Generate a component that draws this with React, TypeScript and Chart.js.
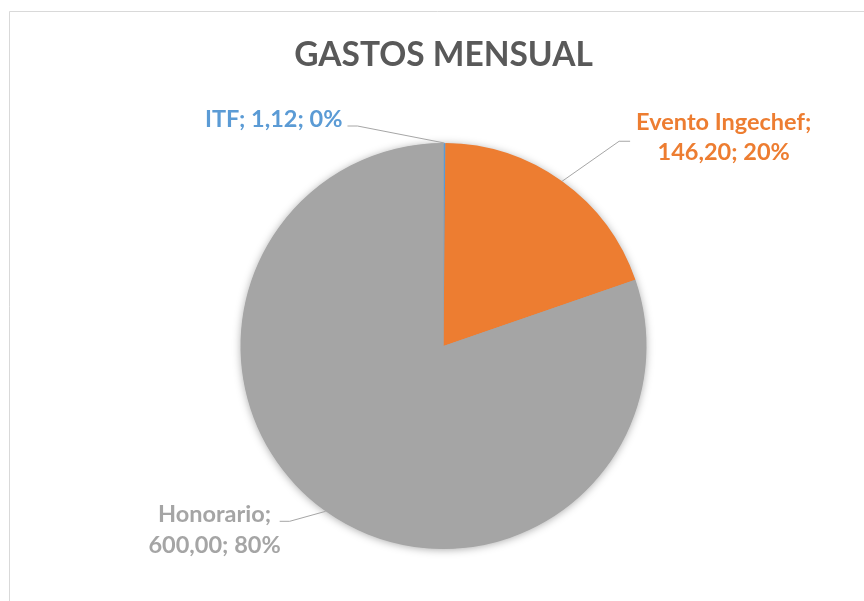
import React, { useEffect, useRef } from 'react';
import { Chart, registerables } from 'chart.js';

Chart.register(...registerables);

const chartTitle = 'GASTOS MENSUAL';
const categories = ['ITF', 'Evento Ingechef', 'Honorario'];
const values = [1.12, 146.2, 600.0];
const sliceColors = ['#5B9BD5', '#ED7D31', '#A5A5A5'];

// Leader-line / label layout for each slice (relative to the slice's outer edge)
const labelElbows = [[-87, -17], [57, -40], [-36, 10]];
const labelTails = [-10, 11, -10];
const labelGaps = [5, 6, -1];
const labelSplit = [false, true, true];
const labelBaselines = [[1], [-11, 19], [1, 32]];

const LABEL_FONT = 'bold 23.5px Lato';
const LEADER_COLOR = '#A6A6A6';

function fmt(v: number): string {
  return v.toFixed(2).replace('.', ',');
}

const total = values.reduce((a, b) => a + b, 0);

function labelLines(i: number): string[] {
  const pct = Math.round((values[i] / total) * 100) + '%';
  const name = categories[i] + ';';
  const rest = fmt(values[i]) + '; ' + pct;
  return labelSplit[i] ? [name, rest] : [name + ' ' + rest];
}

const frame = {
  id: 'frame',
  beforeDraw(chart: any) {
    const ctx = chart.ctx;
    ctx.save();
    ctx.fillStyle = '#ffffff';
    ctx.fillRect(0, 0, chart.width, chart.height);
    ctx.strokeStyle = '#D9D9D9';
    ctx.lineWidth = 1;
    ctx.beginPath();
    ctx.moveTo(9.5, chart.height + 5);
    ctx.lineTo(9.5, 11.5);
    ctx.lineTo(chart.width + 5, 11.5);
    ctx.stroke();
    ctx.restore();
  },
};

const pieShadow = {
  id: 'pieShadow',
  beforeDatasetsDraw(chart: any) {
    const meta = chart.getDatasetMeta(0);
    const arc = meta.data[0];
    if (!arc) return;
    const { x, y, outerRadius } = arc.getProps(['x', 'y', 'outerRadius'], true);
    const ctx = chart.ctx;
    ctx.save();
    ctx.shadowColor = 'rgba(0,0,0,0.35)';
    ctx.shadowBlur = 9;
    ctx.shadowOffsetX = 0;
    ctx.shadowOffsetY = 1;
    ctx.fillStyle = '#A5A5A5';
    ctx.beginPath();
    ctx.arc(x, y, outerRadius - 0.5, 0, Math.PI * 2);
    ctx.fill();
    ctx.restore();
  },
};

const pieLabels = {
  id: 'pieLabels',
  afterDatasetsDraw(chart: any) {
    const meta = chart.getDatasetMeta(0);
    const ctx = chart.ctx;
    ctx.save();
    ctx.font = LABEL_FONT;
    meta.data.forEach((arc: any, i: number) => {
      const { x, y, startAngle, endAngle, outerRadius } = arc.getProps(
        ['x', 'y', 'startAngle', 'endAngle', 'outerRadius'],
        true
      );
      const mid = (startAngle + endAngle) / 2;
      const px = x + Math.cos(mid) * outerRadius;
      const py = y + Math.sin(mid) * outerRadius;
      const ex = px + labelElbows[i][0];
      const ey = py + labelElbows[i][1];
      const tx = ex + labelTails[i];
      ctx.strokeStyle = LEADER_COLOR;
      ctx.lineWidth = 1;
      ctx.beginPath();
      ctx.moveTo(px, py);
      ctx.lineTo(ex, ey);
      ctx.lineTo(tx, ey);
      ctx.stroke();

      const lines = labelLines(i);
      const widths = lines.map((l) => ctx.measureText(l).width);
      const blockW = Math.max(...widths);
      const right = labelTails[i] < 0;
      const left = right ? tx - labelGaps[i] - blockW : tx + labelGaps[i];
      const cx = left + blockW / 2;
      ctx.fillStyle = sliceColors[i];
      ctx.textAlign = 'center';
      ctx.textBaseline = 'alphabetic';
      lines.forEach((l, k) => {
        ctx.fillText(l, cx, ey + labelBaselines[i][k]);
      });
    });
    ctx.restore();
  },
};

export default function App() {
  const ref = useRef<HTMLCanvasElement | null>(null);

  useEffect(() => {
    if (!ref.current) return;
    const chart = new Chart(ref.current, {
      type: 'pie',
      data: {
        labels: categories,
        datasets: [
          {
            data: values,
            backgroundColor: sliceColors,
            borderWidth: 0,
          },
        ],
      },
      options: {
        responsive: false,
        animation: false,
        events: [],
        layout: {
          padding: { left: 240, right: 217, top: 0, bottom: 52 },
        },
        plugins: {
          legend: { display: false },
          tooltip: { enabled: false },
          title: {
            display: true,
            text: chartTitle,
            color: '#595959',
            font: { family: 'Lato', size: 33.5, weight: 'bold', lineHeight: 1.2 },
            padding: { top: 34.9, bottom: 67.9 },
          },
        },
      },
      plugins: [frame, pieShadow, pieLabels],
    });
    return () => chart.destroy();
  }, []);

  return (
    <div style={{ position: 'absolute', left: 0, top: 0, width: 864, height: 601 }}>
      <canvas ref={ref} width={864} height={601} />
    </div>
  );
}
